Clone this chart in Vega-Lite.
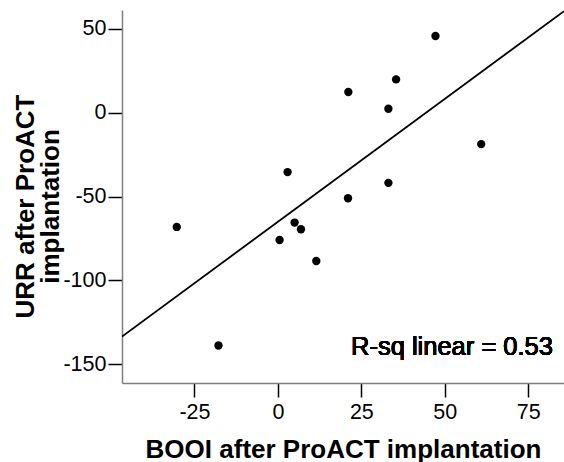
{
  "$schema": "https://vega.github.io/schema/vega-lite/v6.json",
  "width": 442,
  "height": 373,
  "autosize": {"type": "none"},
  "padding": {"left": 122, "top": 10, "right": 0, "bottom": 79},
  "background": "white",
  "config": {
    "view": {"stroke": null},
    "font": "Liberation Sans"
  },
  "data": {
    "values": [
      {"booi": 47.2, "urr": 45.8},
      {"booi": 35.4, "urr": 19.9},
      {"booi": 21.1, "urr": 12.4},
      {"booi": 33.1, "urr": 2.4},
      {"booi": 60.9, "urr": -18.7},
      {"booi": 33.1, "urr": -41.8},
      {"booi": 21.0, "urr": -51.0},
      {"booi": -30.3, "urr": -68.1},
      {"booi": 2.9, "urr": -35.4},
      {"booi": 5.0, "urr": -65.5},
      {"booi": 6.9, "urr": -69.5},
      {"booi": 0.5, "urr": -75.9},
      {"booi": 11.5, "urr": -88.4},
      {"booi": -17.8, "urr": -138.8}
    ]
  },
  "encoding": {
    "x": {
      "field": "booi",
      "type": "quantitative",
      "scale": {"domain": [-46.7, 85.7], "nice": false, "zero": false},
      "axis": {
        "title": "BOOI after ProACT implantation",
        "values": [-25, 0, 25, 50, 75],
        "labelExpr": "replace(datum.label, '\u2212', '-')",
        "grid": false,
        "domainColor": "#808080",
        "domainWidth": 1.5,
        "tickColor": "#000000",
        "tickWidth": 1.5,
        "tickSize": 14,
        "labelFontSize": 21.5,
        "labelColor": "#000000",
        "labelPadding": 4,
        "labelFont": "Liberation Sans",
        "titleFont": "Liberation Sans",
        "titleFontSize": 26,
        "titleFontWeight": "bold",
        "titleColor": "#000000",
        "titleX": 221,
        "titleY": 74,
        "titleBaseline": "alphabetic",
        "titleAlign": "center"
      }
    },
    "y": {
      "field": "urr",
      "type": "quantitative",
      "scale": {"domain": [-161.2, 61.3], "nice": false, "zero": false},
      "axis": {
        "title": ["URR after ProACT", "implantation"],
        "values": [-150, -100, -50, 0, 50],
        "labelExpr": "replace(datum.label, '\u2212', '-')",
        "grid": false,
        "domainColor": "#808080",
        "domainWidth": 1.5,
        "tickColor": "#000000",
        "tickWidth": 1.5,
        "tickSize": 14,
        "labelFontSize": 21.5,
        "labelColor": "#000000",
        "labelPadding": 2,
        "labelFont": "Liberation Sans",
        "titleFont": "Liberation Sans",
        "titleFontSize": 26,
        "titleFontWeight": "bold",
        "titleColor": "#000000",
        "titleLineHeight": 25,
        "titleAngle": -90,
        "titleX": -110,
        "titleY": 196,
        "titleBaseline": "top",
        "titleAlign": "center"
      }
    }
  },
  "layer": [
    {
      "mark": {"type": "circle", "size": 70, "color": "#000000", "opacity": 1}
    },
    {
      "transform": [
        {"regression": "urr", "on": "booi", "extent": [-46.7, 85.7]}
      ],
      "mark": {"type": "line", "color": "#000000", "strokeWidth": 1.8, "clip": true}
    },
    {
      "mark": {
        "type": "text",
        "text": "R-sq linear = 0.53",
        "align": "right",
        "baseline": "alphabetic",
        "fontSize": 25.5,
        "font": "Liberation Sans",
        "color": "#000000"
      },
      "encoding": {
        "x": {"datum": 82.4, "type": "quantitative"},
        "y": {"datum": -144.7, "type": "quantitative"}
      }
    }
  ]
}
